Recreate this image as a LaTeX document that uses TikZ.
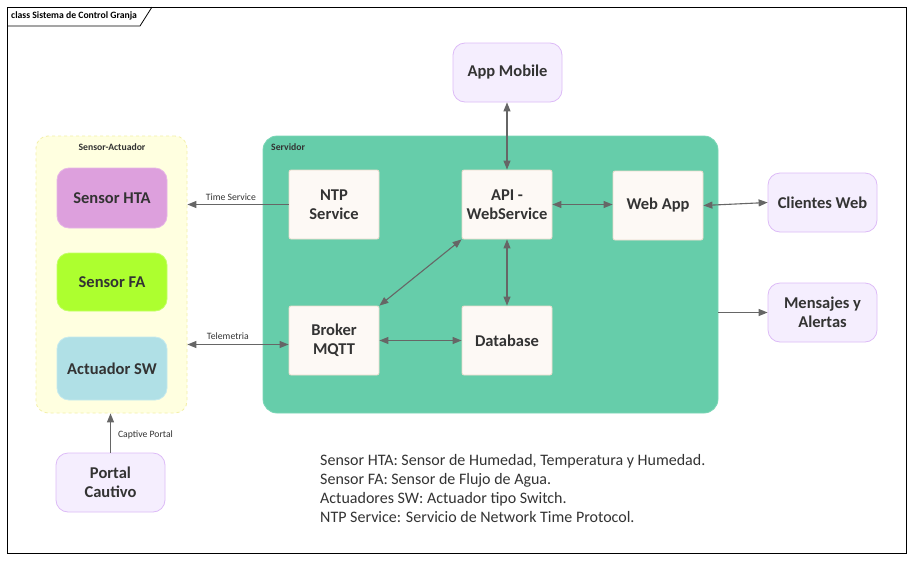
\documentclass[tikz,border=0pt]{standalone}
\usepackage{fontspec}
\setmainfont{Carlito}
\usetikzlibrary{arrows.meta,calc}
\definecolor{txt}{HTML}{333333}
\definecolor{arrc}{HTML}{666666}
\definecolor{safill}{HTML}{FFFFE0}
\definecolor{saline}{HTML}{F3EFA8}
\definecolor{htafill}{HTML}{DDA0DD}
\definecolor{htaline}{HTML}{E6B6E6}
\definecolor{fafill}{HTML}{ADFF2F}
\definecolor{faline}{HTML}{C2FF66}
\definecolor{swfill}{HTML}{B0E0E6}
\definecolor{swline}{HTML}{C6EAEE}
\definecolor{srvfill}{HTML}{66CDAA}
\definecolor{srvline}{HTML}{7AD6B6}
\definecolor{boxfill}{HTML}{FDF9F5}
\definecolor{boxline}{HTML}{EADCCB}
\definecolor{lavfill}{HTML}{F5EEFE}
\definecolor{lavline}{HTML}{DDBBF7}
\tikzset{
  x=1pt,y=-1pt,
  every node/.style={text=txt},
  colored/.style={draw=#1line,fill=#1fill,line width=0.8pt,rounded corners=12pt,minimum width=110pt,font=\fontsize{16.5}{19}\selectfont\bfseries,align=center},
  srvbox/.style={draw=boxline,fill=boxfill,line width=0.8pt,rounded corners=2pt,minimum width=90pt,minimum height=69pt,font=\fontsize{16.5}{19}\selectfont\bfseries,align=center},
  lavbox/.style={draw=lavline,fill=lavfill,line width=0.8pt,rounded corners=12pt,minimum width=109pt,minimum height=59pt,font=\fontsize{16.5}{19}\selectfont\bfseries,align=center},
  arr/.style={draw=arrc,line width=1.1pt,-{Triangle[length=9pt,width=7pt]}},
  arrboth/.style={draw=arrc,line width=1.1pt,{Triangle[length=9pt,width=7pt]}-{Triangle[length=9pt,width=7pt]}},
  lbl/.style={font=\fontsize{9.7}{11}\selectfont,inner sep=1pt},
}
\begin{document}
\begin{tikzpicture}
\useasboundingbox (0,0) rectangle (913,560);
\fill[white] (0,0) rectangle (913,560);
% frame
\draw[black,line width=0.8pt] (7,7) rectangle (906,553);
\draw[black,line width=0.8pt] (7,26) -- (140,26) -- (152,7);
\node[anchor=west,font=\fontsize{9.7}{11}\selectfont\bfseries,text=black,inner sep=0pt] (title) at (11,16) {class Sistema de Control Granja};
% containers
\node[draw=saline,fill=safill,dashed,line width=0.8pt,rounded corners=12pt,minimum width=151pt,minimum height=277pt] (SA) at (111.5,274.5) {};
\node[font=\fontsize{9.7}{11}\selectfont\bfseries,inner sep=0pt] (SAlbl) at (112,147) {Sensor-Actuador};
\node[draw=srvline,fill=srvfill,line width=0.8pt,rounded corners=14pt,minimum width=455pt,minimum height=277pt] (Servidor) at (490.5,274.5) {};
\node[anchor=west,font=\fontsize{9.7}{11}\selectfont\bfseries,inner sep=0pt] (Srvlbl) at (271,147) {Servidor};
% sensor nodes
\node[colored=hta,minimum height=60pt] (HTA) at (112,198) {Sensor HTA};
\node[colored=fa,minimum height=58pt] (FA) at (112,282) {Sensor FA};
\node[colored=sw,minimum height=63pt] (SW) at (112,368.5) {Actuador SW};
% server nodes
\node[srvbox] (NTP) at (334,204.5) {NTP\\Service};
\node[srvbox] (API) at (507,204.5) {API -\\WebService};
\node[srvbox] (Web) at (658,205.5) {Web App};
\node[srvbox] (Broker) at (334,340.5) {Broker\\MQTT};
\node[srvbox] (DB) at (507,340.5) {Database};
% outer nodes
\node[lavbox] (Mobile) at (507.5,72.5) {App Mobile};
\node[lavbox] (Clientes) at (822.5,202.5) {Clientes Web};
\node[lavbox] (Mensajes) at (822.5,312.5) {Mensajes y\\Alertas};
\node[lavbox] (Portal) at (110.5,482.5) {Portal\\Cautivo};
% connectors
\draw[arr] (NTP.west) -- (NTP.west -| SA.east) node[lbl,pos=0.57,above=2pt] (tslbl) {Time Service};
\draw[arrboth] ([yshift=-4pt]Broker.west) -- ([yshift=-4pt]Broker.west -| SA.east) node[lbl,pos=0.6,above=3pt] (tellbl) {Telemetria};
\draw[arrboth] (Mobile.south -| API.north) -- (API.north);
\draw[arrboth] (API.east) -- (API.east -| Web.west);
\draw[arrboth] (Web.east) -- (Clientes.west);
\draw[arrboth] (API.south west) -- (Broker.north east);
\draw[arrboth] (API.south) -- (DB.north);
\draw[arrboth] (Broker.east) -- (Broker.east -| DB.west);
\draw[arr] (Servidor.east |- Mensajes.west) -- (Mensajes.west);
\draw[arr] (Portal.north) -- (Portal.north |- SA.south) node[lbl,pos=0.45,right=6pt] (cplbl) {Captive Portal};
% legend
\node[anchor=north west,align=left,font=\fontsize{16}{19}\selectfont,inner sep=0pt] (legend) at (320,454) {Sensor HTA: Sensor de Humedad, Temperatura y Humedad.\\Sensor FA: Sensor de Flujo de Agua.\\Actuadores SW: Actuador tipo Switch.\\NTP Service: Servicio de Network Time Protocol.};
\end{tikzpicture}
\end{document}
